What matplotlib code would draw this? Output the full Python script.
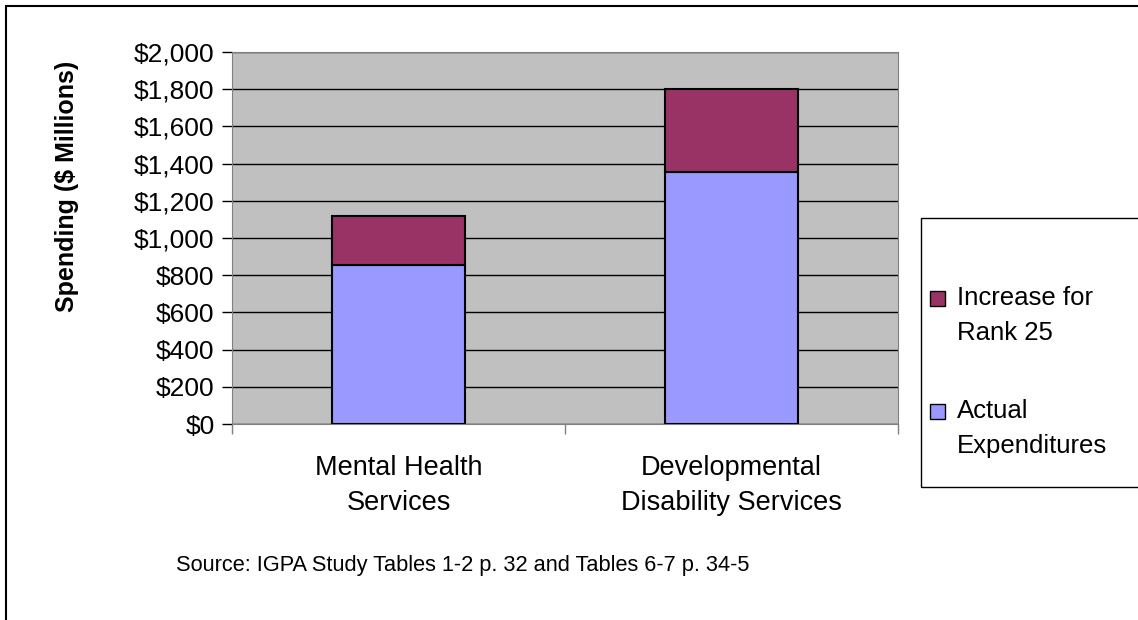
import matplotlib.pyplot as plt
from matplotlib.patches import Rectangle
from matplotlib.ticker import FuncFormatter

# Data ($ millions)
categories = ["Mental Health\nServices", "Developmental\nDisability Services"]
actual = [857, 1354]
increase = [260, 449]
series_names = ["Increase for\nRank 25", "Actual\nExpenditures"]
series_colors = ['#993366', '#9999FF']

plt.rcParams['font.family'] = ['Liberation Sans', 'DejaVu Sans']

fig = plt.figure(figsize=(11.38, 6.2), dpi=100)
ax = fig.add_axes([232 / 1138, 1 - 424 / 620, 666 / 1138, 372 / 620])

x = range(len(categories))
ax.bar(x, actual, width=0.4, color=series_colors[1], edgecolor='black', linewidth=1.5, zorder=3)
ax.bar(x, increase, bottom=actual, width=0.4, color=series_colors[0], edgecolor='black', linewidth=1.5, zorder=3)

ax.set_facecolor('#C0C0C0')
ax.set_xlim(-0.5, 1.5)
ax.set_ylim(0, 2000)
ax.set_yticks(range(0, 2001, 200))
ax.yaxis.set_major_formatter(FuncFormatter(lambda v, p: "${:,.0f}".format(v)))
ax.grid(axis='y', color='black', linewidth=1, zorder=1)
ax.tick_params(axis='y', labelsize=19, length=7, width=1, direction='out', pad=5.5)

ax.set_xticks(list(x))
ax.set_xticklabels(categories, fontsize=19.5, linespacing=1.45)
ax.tick_params(axis='x', length=0, pad=22)
ax.set_xticks([-0.5, 0.5, 1.5], minor=True)
ax.tick_params(axis='x', which='minor', length=7, width=1, color='gray')

for s in ['top', 'right', 'left', 'bottom']:
    ax.spines[s].set_color('gray')

fig.text(67 / 1138, 1 - 186 / 620, "Spending ($ Millions)", rotation=90, ha='center', va='center',
         fontsize=18, fontweight='bold')

fig.text(463 / 1138, 1 - 565 / 620, "Source: IGPA Study Tables 1-2 p. 32 and Tables 6-7 p. 34-5",
         ha='center', va='center', fontsize=15.7)

# outer chart border
fig.patches.append(Rectangle((6 / 1138, -0.05), 1.1, 1 - 6 / 620 + 0.05, transform=fig.transFigure,
                             fill=False, edgecolor='black', linewidth=1.5))
# legend box
fig.patches.append(Rectangle((921 / 1138, 133 / 620), 0.3, 269 / 620, transform=fig.transFigure,
                             fill=False, edgecolor='black', linewidth=1))
# legend entries (marker aligned with first text line, like the original)
entry_y = [298, 411]
for name, col, yy in zip(series_names, series_colors, entry_y):
    fig.patches.append(Rectangle((930 / 1138, 1 - (yy + 8) / 620), 15 / 1138, 15 / 620,
                                 transform=fig.transFigure, facecolor=col, edgecolor='black', linewidth=1))
    for i, line in enumerate(name.split('\n')):
        fig.text(957 / 1138, 1 - (yy + 35 * i) / 620, line, ha='left', va='center', fontsize=18.5)

fig.savefig("out.png", dpi=100)
